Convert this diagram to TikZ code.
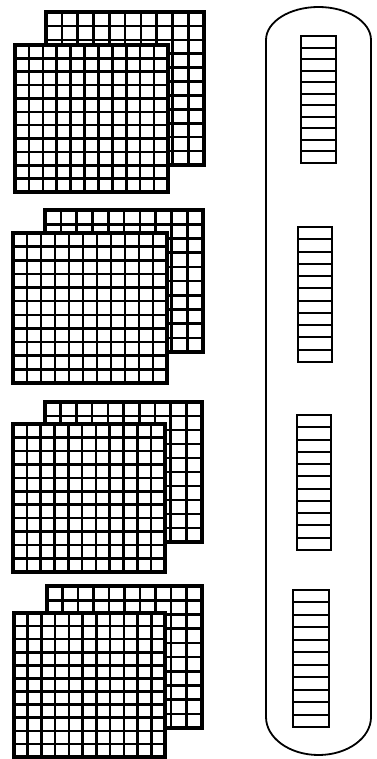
\documentclass[tikz,border=0pt]{standalone}
\tikzset{
  gridline/.style={line width=2.6pt, black},
  gridborder/.style={line width=4pt, black},
  rung/.style={line width=2pt, black},
  ladderborder/.style={line width=2.3pt, black},
  track/.style={line width=1.8pt, black}
}
\newcommand{\gridpanel}[6]{%
  \fill[white] (#1,#2) rectangle (#3,#4);
  \pgfmathtruncatemacro\gpc{#5-1}%
  \pgfmathtruncatemacro\gpr{#6-1}%
  \foreach \i in {1,...,\gpc}{%
    \pgfmathsetmacro\xx{#1+\i*(#3-#1)/#5}%
    \draw[gridline] (\xx,#2) -- (\xx,#4);}
  \foreach \i in {1,...,\gpr}{%
    \pgfmathsetmacro\yy{#2+\i*(#4-#2)/#6}%
    \draw[gridline] (#1,\yy) -- (#3,\yy);}
  \draw[gridborder] (#1,#2) rectangle (#3,#4);
}
\newcommand{\ladderpanel}[5]{%
  \pgfmathtruncatemacro\lpr{#5-1}%
  \foreach \i in {1,...,\lpr}{%
    \pgfmathsetmacro\yy{#2+\i*(#4-#2)/#5}%
    \draw[rung] (#1,\yy) -- (#3,\yy);}
  \draw[ladderborder] (#1,#2) rectangle (#3,#4);
}
\begin{document}
\begin{tikzpicture}[x=1pt,y=-1pt]
\useasboundingbox (0,0) rectangle (376,759);
\fill[white] (0,0) rectangle (376,759);
% pair 1
\gridpanel{46}{12}{204}{165}{10}{11}
\gridpanel{15}{45}{168}{192}{11}{11}
% pair 2
\gridpanel{45}{210}{203}{352}{10}{10}
\gridpanel{13}{233}{167}{383}{11}{11}
% pair 3
\gridpanel{45}{402}{202}{542}{10}{10}
\gridpanel{13}{424}{165}{572}{11}{11}
% pair 4
\gridpanel{47}{586}{202}{728}{10}{10}
\gridpanel{14}{613}{165}{757}{11}{11}
% track
\draw[track] (266,40) arc[start angle=180, end angle=360, x radius=52.5, y radius=33]
  -- (371,717) arc[start angle=0, end angle=180, x radius=52.5, y radius=38] -- cycle;
% ladders
\ladderpanel{301}{36}{336}{163}{11}
\ladderpanel{298}{227}{332}{362}{11}
\ladderpanel{297}{415}{331}{550}{11}
\ladderpanel{293}{590}{329}{727}{11}
\end{tikzpicture}
\end{document}
